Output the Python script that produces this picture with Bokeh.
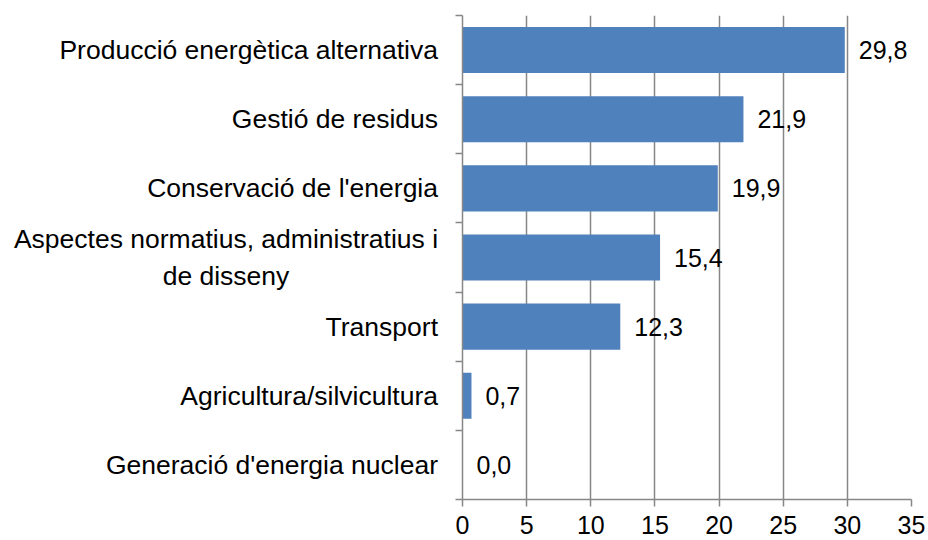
from bokeh.plotting import figure
from bokeh.layouts import row
from bokeh.models import ColumnDataSource, Range1d, FixedTicker, LabelSet
from bokeh.core.properties import value
from bokeh.embed import file_html
from bokeh.resources import INLINE

categories = [
    "Producció energètica alternativa",
    "Gestió de residus",
    "Conservació de l'energia",
    "Aspectes normatius, administratius i\nde disseny",
    "Transport",
    "Agricultura/silvicultura",
    "Generació d'energia nuclear",
]
values = [29.8, 21.9, 19.9, 15.4, 12.3, 0.7, 0.0]
x_ticks = [0, 5, 10, 15, 20, 25, 30, 35]

FONT = "Liberation Sans"
GRAY = "#878787"
BAR = "#4F81BD"

W, H = 928, 540
LEFT_W = 442          # width of the category-label panel
TOP, BOTTOM = 15, 41  # borders above / below the plotting frame

ys = [i + 0.5 for i in range(len(categories))]
labels = [f"{v:.1f}".replace(".", ",") for v in values]
src = ColumnDataSource(dict(y=ys, v=values, lab=labels))
y_range = Range1d(len(categories), 0)

# ---- category label panel (left) ----
RIGHT_EDGE = 437.5
HALF_BLOCK = 212
single = [(y, c) for y, c in zip(ys, categories) if "\n" not in c]
multi = [(y, c) for y, c in zip(ys, categories) if "\n" in c]

lp = figure(width=LEFT_W, height=H, output_backend="svg", toolbar_location=None,
            x_range=Range1d(0, LEFT_W), y_range=y_range,
            x_axis_location=None, y_axis_location=None,
            min_border_left=0, min_border_right=0,
            min_border_top=TOP, min_border_bottom=BOTTOM)
lp.outline_line_color = None
lp.grid.grid_line_color = None
lp.text(x=[RIGHT_EDGE] * len(single), y=[s[0] for s in single],
        text=[s[1] for s in single], text_align="right", text_baseline="middle",
        text_font=value(FONT), text_font_size="26.5px", text_color="black")
lp.text(x=[RIGHT_EDGE - HALF_BLOCK] * len(multi), y=[m[0] for m in multi],
        text=[m[1] for m in multi], text_align="center", text_baseline="middle",
        text_font=value(FONT), text_font_size="26.5px", text_color="black",
        text_line_height=1.23)

# ---- bar chart ----
p = figure(width=W - LEFT_W, height=H, output_backend="svg", toolbar_location=None,
           x_range=Range1d(0, 35), y_range=y_range,
           min_border_left=462 - LEFT_W, min_border_right=17,
           min_border_top=TOP, min_border_bottom=BOTTOM)
p.outline_line_color = None
p.background_fill_color = "white"
p.border_fill_color = "white"

p.hbar(y="y", left=0, right="v", height=0.666, source=src,
       fill_color=BAR, line_color=None)

p.add_layout(LabelSet(x="v", y="y", text="lab", source=src, x_offset=14,
                      text_align="left", text_baseline="middle",
                      text_font=value(FONT), text_font_size="25px",
                      text_color="black"))

xa = p.xaxis[0]
xa.ticker = FixedTicker(ticks=x_ticks)
xa.axis_line_color = GRAY
xa.axis_line_width = 1.5
xa.major_tick_line_color = GRAY
xa.major_tick_line_width = 1.5
xa.major_tick_out = 7
xa.major_tick_in = 0
xa.minor_tick_line_color = None
xa.major_label_text_font = FONT
xa.major_label_text_font_size = "25px"
xa.major_label_text_color = "black"
xa.major_label_standoff = 9

bounds = list(range(len(categories) + 1))
ya = p.yaxis[0]
ya.ticker = FixedTicker(ticks=bounds)
ya.major_label_overrides = {b: "" for b in bounds}
ya.major_label_standoff = 0
ya.axis_line_color = GRAY
ya.axis_line_width = 1.5
ya.major_tick_line_color = GRAY
ya.major_tick_line_width = 1.5
ya.major_tick_out = 7
ya.major_tick_in = 0
ya.minor_tick_line_color = None

p.xgrid.grid_line_color = GRAY
p.xgrid.grid_line_width = 1.5
p.ygrid.grid_line_color = None

layout = row(lp, p, spacing=0)
open("out.html", "w").write(file_html(layout, INLINE))
